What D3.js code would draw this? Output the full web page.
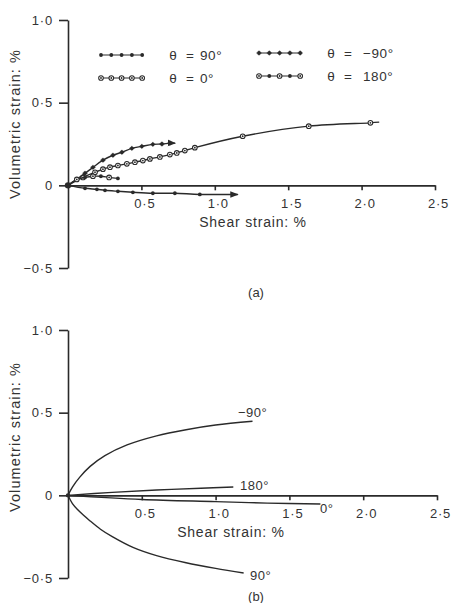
<!DOCTYPE html>
<html><head><meta charset="utf-8">
<script src="https://cdn.jsdelivr.net/npm/d3@7"></script>
<style>
html,body{margin:0;padding:0;background:#fff;}
svg text{font-family:"Liberation Sans",Arial,sans-serif;fill:#333;}
</style></head>
<body>
<svg id="chart" width="455" height="603"></svg>
<script>
// ---------- data ----------
const xTicks = [0.5, 1.0, 1.5, 2.0, 2.5];
const yTicks = [-0.5, 0, 0.5, 1.0];
const xTickLabels = ["0·5", "1·0", "1·5", "2·0", "2·5"];
const yTickLabels = ["−0·5", "0", "0·5", "1·0"];

// panel (a) experimental
const aShear90 = [0, 0.116, 0.197, 0.252, 0.34, 0.442, 0.578, 0.728, 0.898, 1.157];
const aVol90   = [0, -0.018, -0.024, -0.03, -0.036, -0.042, -0.048, -0.048, -0.055, -0.055];
const aShear0  = [0, 0.102, 0.184, 0.238, 0.286, 0.34, 0.401, 0.456, 0.51, 0.558, 0.626, 0.694, 0.741, 0.796, 0.864, 1.19, 1.64, 2.06, 2.12];
const aVol0    = [0, 0.048, 0.079, 0.098, 0.11, 0.12, 0.13, 0.14, 0.15, 0.16, 0.172, 0.186, 0.196, 0.21, 0.228, 0.297, 0.358, 0.378, 0.382];
const aShearM90 = [0, 0.116, 0.17, 0.238, 0.306, 0.367, 0.435, 0.503, 0.578, 0.64, 0.694, 0.73];
const aVolM90   = [0, 0.073, 0.109, 0.152, 0.182, 0.2, 0.224, 0.236, 0.248, 0.25, 0.255, 0.255];
const aShear180 = [0, 0.06, 0.116, 0.17, 0.224, 0.28, 0.34];
const aVol180   = [0, 0.036, 0.048, 0.055, 0.055, 0.048, 0.042];

// panel (b) predicted
const bShearM90 = [0, 0.03, 0.08, 0.15, 0.25, 0.4, 0.6, 0.8, 1.0, 1.25];
const bVolM90   = [0, 0.05, 0.11, 0.175, 0.24, 0.305, 0.36, 0.397, 0.425, 0.448];
const bShear180 = [0, 0.3, 0.6, 0.9, 1.12];
const bVol180   = [0, 0.018, 0.032, 0.043, 0.05];
const bShear0   = [0, 0.5, 1.0, 1.35, 1.71];
const bVol0     = [0, -0.025, -0.038, -0.047, -0.052];
const bShear90  = [0, 0.03, 0.08, 0.15, 0.22, 0.3, 0.44, 0.6, 0.8, 1.0, 1.19];
const bVol90    = [0, -0.05, -0.1, -0.155, -0.205, -0.25, -0.315, -0.365, -0.408, -0.442, -0.47];

const legendLabels = ["90°", "0°", "−90°", "180°"];
const curveLabelsB = ["−90°", "180°", "0°", "90°"];
const xTitle = "Shear strain: %";
const yTitle = "Volumetric strain: %";
const panelLabels = ["(a)", "(b)"];

// ---------- drawing ----------
const svg = d3.select("#chart");
const ink = "#2a2a2a";
const zip = (xs, ys) => xs.map((x, i) => [x, ys[i]]);

svg.append("defs").append("marker")
  .attr("id", "arr").attr("viewBox", "0 0 10 10").attr("refX", 9).attr("refY", 5)
  .attr("markerWidth", 6).attr("markerHeight", 6).attr("orient", "auto")
  .append("path").attr("d", "M0,1 L10,5 L0,9 Z").attr("fill", ink);

function panel(cfg) {
  const x = d3.scaleLinear().domain([0, 2.5]).range([68, cfg.xr]);
  const y = d3.scaleLinear().domain([-0.5, 1.0]).range([cfg.yb, cfg.yt]);
  const g = svg.append("g");
  const yAx = d3.axisLeft(y).tickValues(yTicks).tickSize(9).tickSizeOuter(0).tickPadding(6)
    .tickFormat((d, i) => yTickLabels[i]);
  const ga = g.append("g").attr("transform", `translate(${x(0)},0)`).call(yAx);
  const xAx = d3.axisBottom(x).tickValues(xTicks).tickSize(5).tickSizeOuter(0).tickPadding(8)
    .tickFormat((d, i) => xTickLabels[i]);
  const gb = g.append("g").attr("transform", `translate(0,${y(0)})`).call(xAx);
  [ga, gb].forEach(a => {
    a.selectAll("path,line").attr("stroke", ink).attr("stroke-width", 1.6);
    a.selectAll("text").attr("font-size", 13).attr("fill", "#333")
      .attr("font-family", "'Liberation Sans',Arial,sans-serif").style("letter-spacing", "0.8px");
  });
  gb.selectAll("text").attr("dx", 3);
  g.append("text").attr("x", cfg.xtx).attr("y", y(0) + 42).attr("text-anchor", "middle")
    .attr("font-size", 14).style("letter-spacing", "0.8px").text(xTitle);
  g.append("text").attr("transform", `translate(20,${cfg.ytc}) rotate(-90)`)
    .attr("text-anchor", "middle").attr("font-size", 14.5).style("letter-spacing", "1.1px").text(yTitle);
  g.append("text").attr("x", 256).attr("y", cfg.plY).attr("text-anchor", "middle")
    .attr("font-size", 13).text(cfg.pl);
  return {g, x, y};
}

const line = (x, y) => d3.line().x(d => x(d[0])).y(d => y(d[1])).curve(d3.curveCatmullRom.alpha(0.5));

// ---- panel a ----
const A = panel({xr: 435, yt: 20, yb: 268, xtx: 253, ytc: 124, plY: 297, pl: panelLabels[0]});
const seriesA = [
  {pts: zip(aShear90, aVol90), type: "dot", arrow: true},
  {pts: zip(aShear0, aVol0), type: "open", arrow: false},
  {pts: zip(aShearM90, aVolM90), type: "plus", arrow: true},
  {pts: zip(aShear180, aVol180), type: "mixed", arrow: false}
];
function drawMarker(sel, type, i) {
  if (type === "open" || (type === "mixed" && i % 2 === 0)) {
    sel.append("circle").attr("r", 2.3).attr("fill", "#fff").attr("stroke", ink).attr("stroke-width", 1.1);
    sel.append("circle").attr("r", 0.9).attr("fill", ink);
  } else if (type === "plus") {
    sel.append("circle").attr("r", 1.9).attr("fill", ink);
    sel.append("path").attr("d", "M-2.6,0H2.6M0,-2.4V2.4").attr("stroke", ink).attr("stroke-width", 0.9);
  } else {
    sel.append("circle").attr("r", 1.9).attr("fill", ink);
  }
}
seriesA.forEach(s => {
  A.g.append("path").datum(s.pts).attr("d", line(A.x, A.y)).attr("fill", "none")
    .attr("stroke", ink).attr("stroke-width", 1.4)
    .attr("marker-end", s.arrow ? "url(#arr)" : null);
  const mpts = s.arrow || s.type === "open" ? s.pts.slice(1, -1) : s.pts.slice(1);
  mpts.forEach((p, i) => {
    const m = A.g.append("g").attr("transform", `translate(${A.x(p[0])},${A.y(p[1])})`);
    drawMarker(m, s.type, i);
  });
});
// origin blob
A.g.append("circle").attr("cx", A.x(0)).attr("cy", A.y(0)).attr("r", 3.2).attr("fill", ink);

// legend
const legendPos = [
  {x0: 100, y: 55, type: "dot"}, {x0: 100, y: 78, type: "open"},
  {x0: 258, y: 53, type: "plus"}, {x0: 258, y: 76, type: "mixed"}
];
legendPos.forEach((L, k) => {
  A.g.append("line").attr("x1", L.x0).attr("x2", L.x0 + 43).attr("y1", L.y).attr("y2", L.y)
    .attr("stroke", ink).attr("stroke-width", 1.1);
  d3.range(5).forEach(i => {
    const m = A.g.append("g").attr("transform", `translate(${L.x0 + 1 + i * 10.3},${L.y})`);
    drawMarker(m, L.type, i);
  });
  const tx = L.x0 + 73;
  A.g.append("text").attr("x", tx).attr("y", L.y + 5).attr("text-anchor", "middle")
    .attr("font-size", 13.5).text("θ");
  A.g.append("text").attr("x", tx + 17).attr("y", L.y + 5).attr("text-anchor", "middle")
    .attr("font-size", 13.5).text("=");
  A.g.append("text").attr("x", tx + (k < 2 ? 27 : 32)).attr("y", L.y + 5)
    .attr("font-size", 13.5).style("letter-spacing", "0.6px").text(legendLabels[k]);
});

// ---- panel b ----
const B = panel({xr: 437, yt: 330, yb: 578, xtx: 231, ytc: 437, plY: 601, pl: panelLabels[1]});
const seriesB = [zip(bShearM90, bVolM90), zip(bShear180, bVol180), zip(bShear0, bVol0), zip(bShear90, bVol90)];
seriesB.forEach(pts => {
  B.g.append("path").datum(pts).attr("d", line(B.x, B.y)).attr("fill", "none")
    .attr("stroke", ink).attr("stroke-width", 1.4);
});
B.g.append("circle").attr("cx", B.x(0)).attr("cy", B.y(0)).attr("r", 2.2).attr("fill", ink);
const labPos = [[238, 417], [240, 490], [320, 513], [250, 580]];
seriesB.forEach((pts, i) => {
  B.g.append("text").attr("x", labPos[i][0]).attr("y", labPos[i][1])
    .attr("font-size", 13).style("letter-spacing", "0.5px").text(curveLabelsB[i]);
});
</script>
</body></html>
